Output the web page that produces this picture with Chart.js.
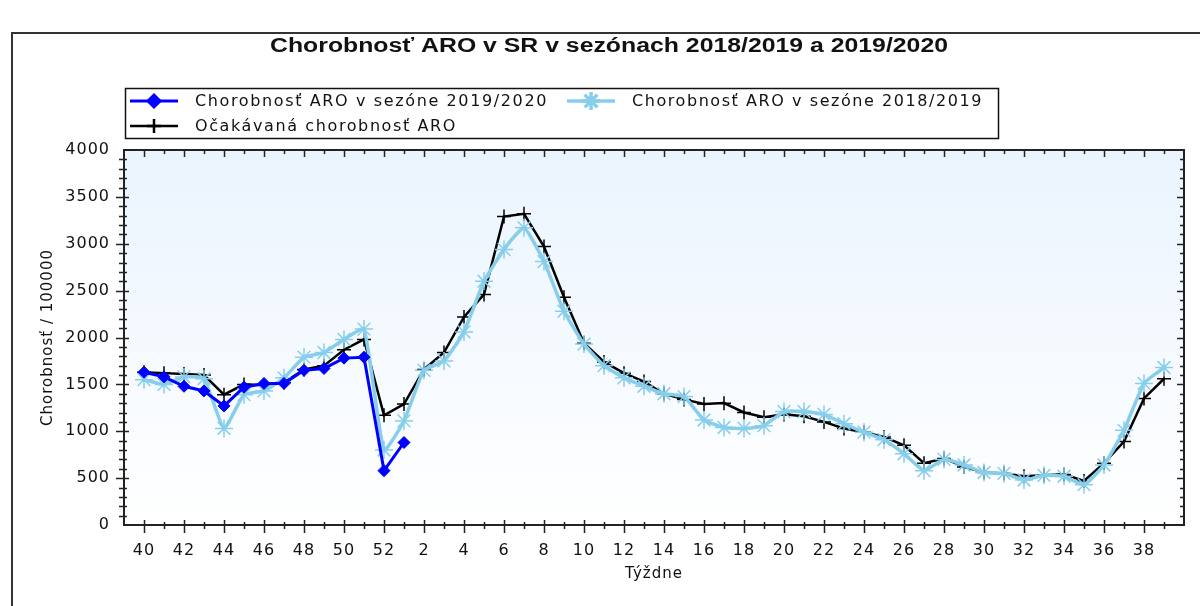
<!DOCTYPE html>
<html>
<head>
<meta charset="utf-8">
<script src="https://cdn.jsdelivr.net/npm/chart.js@4.4.1/dist/chart.umd.min.js"></script>
<style>
  html, body { margin: 0; padding: 0; background: #fff; }
  #wrap { width: 1200px; height: 606px; }
</style>
</head>
<body>
<div id="wrap"><canvas id="aroChart" width="1200" height="606"></canvas></div>
<script>
// weeks of the season, 40..52 then 1..39
const weeks = [40, 41, 42, 43, 44, 45, 46, 47, 48, 49, 50, 51, 52,
  1, 2, 3, 4, 5, 6, 7, 8, 9, 10, 11, 12, 13, 14, 15, 16, 17, 18, 19, 20,
  21, 22, 23, 24, 25, 26, 27, 28, 29, 30, 31, 32, 33, 34, 35, 36, 37, 38, 39];

const season2019 = [1630, 1580, 1480, 1430, 1270, 1470, 1510, 1510, 1650, 1670, 1780, 1790, 580, 880];

const season2018 = [1550, 1500, 1580, 1560, 1030, 1390, 1430, 1570, 1790, 1840, 1980, 2090, 800,
  1110, 1650, 1750, 2060, 2600, 2940, 3170, 2810, 2280, 1930, 1700, 1570, 1480, 1400, 1370, 1120,
  1040, 1030, 1060, 1210, 1210, 1180, 1080, 990, 910, 760, 580, 700, 640, 560, 550, 480, 530, 520,
  430, 640, 1010, 1510, 1680];

const expected = [1630, 1620, 1610, 1600, 1390, 1500, 1490, 1520, 1660, 1700, 1870, 1980, 1170,
  1290, 1660, 1840, 2220, 2460, 3290, 3320, 2970, 2430, 1940, 1740, 1620, 1530, 1400, 1340, 1290,
  1300, 1200, 1150, 1180, 1160, 1100, 1030, 990, 940, 850, 660, 710, 620, 560, 550, 520, 530, 540,
  470, 660, 890, 1350, 1560];

const seriesNames = ["Chorobnosť ARO v sezóne 2019/2020", "Chorobnosť ARO v sezóne 2018/2019", "Očakávaná chorobnosť ARO"];
const chartTitle = "Chorobnosť ARO v SR v sezónach 2018/2019 a 2019/2020";

const FONT = "'DejaVu Sans', 'Liberation Sans', sans-serif";
const AXIS = "#222";

const toPoints = (arr) => arr.map((v, i) => ({ x: i, y: v }));

// fits text to a wanted width with letter spacing
function spaceText(ctx, text, x, y, width) {
  ctx.letterSpacing = "0px";
  const w = ctx.measureText(text).width;
  ctx.letterSpacing = Math.max(0, (width - w) / text.length) + "px";
  ctx.fillText(text, x, y);
  ctx.letterSpacing = "0px";
}

// fits text to a wanted width by stretching it
function stretchText(ctx, text, x, y, width) {
  ctx.letterSpacing = "0px";
  const w = ctx.measureText(text).width;
  ctx.save();
  ctx.translate(x, y);
  ctx.scale(width / w, 1);
  ctx.fillText(text, 0, 0);
  ctx.restore();
}

const decor = {
  id: "decor",
  beforeDraw(chart) {
    const { ctx, chartArea: a } = chart;
    ctx.save();
    ctx.fillStyle = "#fff";
    ctx.fillRect(0, 0, chart.width, chart.height);
    // outer frame
    ctx.strokeStyle = "#333";
    ctx.lineWidth = 2;
    ctx.beginPath();
    ctx.moveTo(12, chart.height);
    ctx.lineTo(12, 33);
    ctx.lineTo(chart.width, 33);
    ctx.stroke();
    // plot background
    const g = ctx.createLinearGradient(0, a.top, 0, a.bottom);
    g.addColorStop(0, "#eaf4fe");
    g.addColorStop(1, "#ffffff");
    ctx.fillStyle = g;
    ctx.fillRect(a.left, a.top, a.right - a.left, a.bottom - a.top);
    ctx.restore();
    ctx.letterSpacing = "1px";
  },
  afterDraw(chart) {
    const { ctx, chartArea: a } = chart;
    const xs = chart.scales.x, ys = chart.scales.y;
    ctx.save();
    ctx.letterSpacing = "0px";
    ctx.strokeStyle = AXIS;
    ctx.lineWidth = 2;
    ctx.strokeRect(a.left, a.top, a.right - a.left, a.bottom - a.top);
    ctx.lineWidth = 1.5;
    ctx.beginPath();
    for (let v = ys.min + 100; v < ys.max; v += 100) {
      const py = Math.round(ys.getPixelForValue(v)) + 0.5;
      const major = v % 500 === 0;
      ctx.moveTo(a.left - (major ? 8 : 5), py);
      ctx.lineTo(a.left + (major ? 5 : 3), py);
      ctx.moveTo(a.right - (major ? 7 : 4), py);
      ctx.lineTo(a.right, py);
    }
    for (let i = 0; i < weeks.length; i++) {
      const px = Math.round(xs.getPixelForValue(i)) + 0.5;
      const major = weeks[i] % 2 === 0;
      ctx.moveTo(px, a.bottom - (major ? 5 : 3));
      ctx.lineTo(px, a.bottom + (major ? 8 : 4));
      ctx.moveTo(px, a.top);
      ctx.lineTo(px, a.top + (major ? 7 : 4));
    }
    ctx.stroke();

    // title
    ctx.fillStyle = "#111";
    ctx.textBaseline = "middle";
    ctx.textAlign = "left";
    ctx.font = "bold 20px 'Liberation Sans', Arial, sans-serif";
    stretchText(ctx, chartTitle, 270, 46, 678);

    // legend
    ctx.lineWidth = 1.5;
    ctx.strokeStyle = "#111";
    ctx.strokeRect(125.5, 88.5, 873, 50);
    const items = [
      { ds: chart.data.datasets[0], x: 130, y: 101, w: 353 },
      { ds: chart.data.datasets[1], x: 567, y: 101, w: 351 },
      { ds: chart.data.datasets[2], x: 130, y: 126, w: 262 }
    ];
    ctx.font = "16px " + FONT;
    items.forEach((it, k) => {
      const ds = it.ds;
      ctx.strokeStyle = ds.borderColor;
      ctx.lineWidth = ds.borderWidth;
      ctx.beginPath();
      ctx.moveTo(it.x, it.y);
      ctx.lineTo(it.x + 48, it.y);
      ctx.stroke();
      ctx.fillStyle = ds.pointBackgroundColor;
      ctx.strokeStyle = ds.pointBorderColor;
      Chart.helpers.drawPoint(ctx, {
        pointStyle: ds.pointStyle, radius: ds.pointRadius,
        borderWidth: ds.pointBorderWidth, rotation: 0
      }, it.x + 24, it.y);
      ctx.fillStyle = "#111";
      spaceText(ctx, seriesNames[k], it.x + 65, it.y + 1, it.w);
    });
    ctx.restore();
  }
};

const ctx = document.getElementById("aroChart").getContext("2d");

new Chart(ctx, {
  type: "line",
  data: {
    datasets: [
      {
        label: seriesNames[0],
        data: toPoints(season2019),
        borderColor: "#0000ff",
        borderWidth: 3,
        pointStyle: "rectRot",
        pointRadius: 6,
        pointBackgroundColor: "#0000ff",
        pointBorderColor: "#0000ff",
        pointBorderWidth: 1,
        tension: 0
      },
      {
        label: seriesNames[1],
        data: toPoints(season2018),
        borderColor: "#87ceeb",
        borderWidth: 3.5,
        pointStyle: "star",
        pointRadius: 9,
        pointBackgroundColor: "#87ceeb",
        pointBorderColor: "#87ceeb",
        pointBorderWidth: 1.5,
        tension: 0.15
      },
      {
        label: seriesNames[2],
        data: toPoints(expected),
        borderColor: "#000000",
        borderWidth: 2.5,
        pointStyle: "cross",
        pointRadius: 7,
        pointBackgroundColor: "#000000",
        pointBorderColor: "#000000",
        pointBorderWidth: 1.5,
        tension: 0
      }
    ]
  },
  options: {
    responsive: false,
    animation: false,
    layout: { padding: { left: 0, top: 150, right: 16, bottom: 0 } },
    plugins: {
      legend: { display: false },
      title: { display: false },
      tooltip: { enabled: false }
    },
    scales: {
      x: {
        type: "linear",
        min: -1,
        max: weeks.length,
        afterFit: (s) => { s.height = 81; },
        grid: { display: false, drawTicks: false },
        border: { display: false },
        ticks: {
          stepSize: 1,
          autoSkip: false,
          maxRotation: 0,
          padding: 16,
          color: "#111",
          font: { family: FONT, size: 16 },
          callback: (v) => {
            const w = weeks[v];
            return (w !== undefined && w % 2 === 0) ? String(w) : "";
          }
        },
        title: {
          display: true,
          text: "Týždne",
          color: "#111",
          font: { family: FONT, size: 15 },
          padding: { top: 0, bottom: 23 }
        }
      },
      y: {
        min: 0,
        max: 4000,
        afterFit: (s) => { s.width = 124; },
        grid: { display: false, drawTicks: false },
        border: { display: false },
        ticks: {
          stepSize: 500,
          padding: 14,
          color: "#111",
          font: { family: FONT, size: 16 },
          callback: (v) => String(v)
        },
        title: {
          display: true,
          text: "Chorobnosť / 100000",
          color: "#111",
          font: { family: FONT, size: 15 },
          padding: { top: 39, bottom: 0 }
        }
      }
    }
  },
  plugins: [decor]
});
</script>
</body>
</html>
